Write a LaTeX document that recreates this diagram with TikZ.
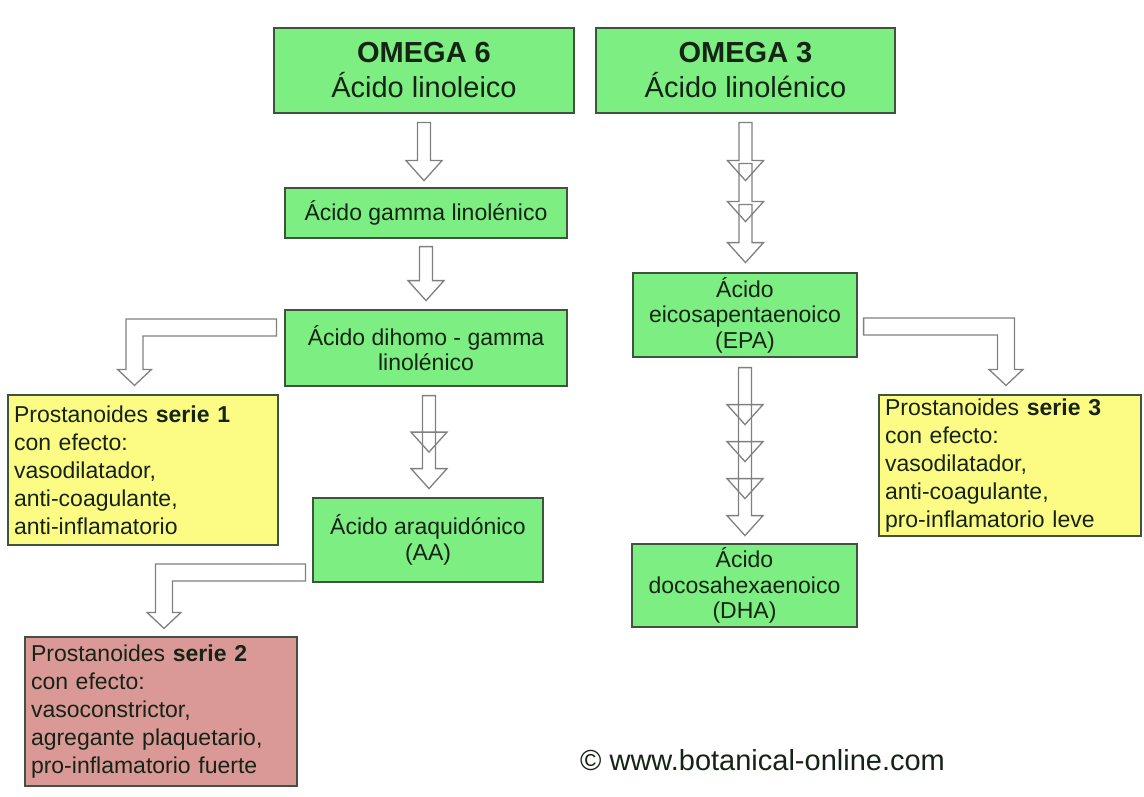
\documentclass[tikz,border=0pt]{standalone}
\usepackage{fontspec}
\setmainfont{Liberation Sans}
\usetikzlibrary{calc}

\definecolor{greenfill}{RGB}{124,238,130}
\definecolor{yellowfill}{RGB}{252,252,132}
\definecolor{redfill}{RGB}{218,152,150}
\definecolor{boxline}{RGB}{62,84,62}
\definecolor{arrowline}{RGB}{128,128,128}
\definecolor{ink}{RGB}{22,36,22}

% straight block arrow: #1 top of the shaft, #2 length
\newcommand{\blockdown}[2]{%
  \draw[blockarrow,shift={#1}] (-6.5,0) -- (-6.5,#2-20) -- (-18,#2-20) -- (0,#2)
    -- (18,#2-20) -- (6.5,#2-20) -- (6.5,0) -- cycle;}

% bent block arrow: #1 end of the bar, #2 tip, #3 side (1 left, -1 right)
\newcommand{\bentblock}[3]{%
  \draw[blockarrow] let \p1=#1, \p2=#2 in
    (\x1,{\y1+8.5pt}) -- ({\x2-(#3)*8.5pt},{\y1+8.5pt}) -- ({\x2-(#3)*8.5pt},{\y2+16pt})
    -- ({\x2-(#3)*17pt},{\y2+16pt}) -- (\x2,\y2) -- ({\x2+(#3)*17pt},{\y2+16pt})
    -- ({\x2+(#3)*8.5pt},{\y2+16pt}) -- ({\x2+(#3)*8.5pt},{\y1-8.5pt}) -- (\x1,{\y1-8.5pt}) -- cycle;}

\begin{document}
\begin{tikzpicture}[x=1pt,y=-1pt,
    box/.style={draw=boxline, line width=1.2pt, text=ink, inner sep=0pt, align=center},
    headbox/.style={box, fill=greenfill, font=\fontsize{29}{35}\selectfont},
    stepbox/.style={box, fill=greenfill, font=\fontsize{23}{25.5}\selectfont},
    notebox/.style={box, inner xsep=6pt, align=left, font=\fontsize{23}{28}\selectfont},
    blockarrow/.style={draw=arrowline, line width=1.3pt, line join=miter}]

    \useasboundingbox (0,0) rectangle (1144,797);
    \fill[white] (0,0) rectangle (1144,797);

    %omega 6 column
    \node[headbox, minimum width=300pt, minimum height=85pt] (omega6) at (424,70.5) {\textbf{OMEGA 6}\\Ácido linoleico};
    \node[stepbox, minimum width=282pt, minimum height=50pt] (gamma) at (426,213) {Ácido gamma linolénico};
    \node[stepbox, minimum width=282pt, minimum height=76pt] (dihomo) at (426,348) {Ácido dihomo - gamma\\linolénico};
    \node[stepbox, minimum width=230pt, minimum height=84pt] (aa) at (428,540) {Ácido araquidónico\\(AA)};

    %omega 3 column
    \node[headbox, minimum width=299pt, minimum height=85pt] (omega3) at (745.5,70.5) {\textbf{OMEGA 3}\\Ácido linolénico};
    \node[stepbox, minimum width=224pt, minimum height=84pt] (epa) at (745,315) {Ácido\\eicosapentaenoico\\(EPA)};
    \node[stepbox, minimum width=225pt, minimum height=83pt] (dha) at (744.5,585.5) {Ácido\\docosahexaenoico\\(DHA)};

    %prostanoids
    \node[notebox, fill=yellowfill, text width=258pt, minimum height=150pt] (serie1) at (143,470)
        {Prostanoides \textbf{serie 1}\\con efecto:\\vasodilatador,\\anti-coagulante,\\anti-inflamatorio};
    \node[notebox, fill=redfill, text width=260pt, minimum height=149pt] (serie2) at (161,711.5)
        {Prostanoides \textbf{serie 2}\\con efecto:\\vasoconstrictor,\\agregante plaquetario,\\pro-inflamatorio fuerte};
    \node[notebox, fill=yellowfill, text width=250pt, minimum height=141pt] (serie3) at (1010,465.5)
        {Prostanoides \textbf{serie 3}\\con efecto:\\vasodilatador,\\anti-coagulante,\\pro-inflamatorio leve};

    %arrows
    \blockdown{($(omega6.south)+(0,9)$)}{58}
    \blockdown{($(gamma.south)+(0,8)$)}{54}
    \foreach \k in {0,1} {\blockdown{($(dihomo.south)+(3,9+36.5*\k)$)}{56.5}}
    \foreach \k in {0,1,2} {\blockdown{($(omega3.south)+(0,9+41*\k)$)}{58}}
    \foreach \k in {0,...,3} {\blockdown{($(epa.south)+(0,10+37*\k)$)}{57}}

    \bentblock{($(dihomo.west)+(-8,-20.5)$)}{($(serie1.north)+(-8.5,-9)$)}{1}
    \bentblock{($(aa.west)+(-7,32.5)$)}{($(serie2.north)+(3,-8)$)}{1}
    \bentblock{($(epa.east)+(6,11.5)$)}{($(serie3.north)+(-4,-9)$)}{-1}

    %credit
    \node[anchor=base west, text=ink, font=\fontsize{29}{34}\selectfont, inner sep=0pt] (credit) at (580,770) {© www.botanical-online.com};

\end{tikzpicture}
\end{document}
